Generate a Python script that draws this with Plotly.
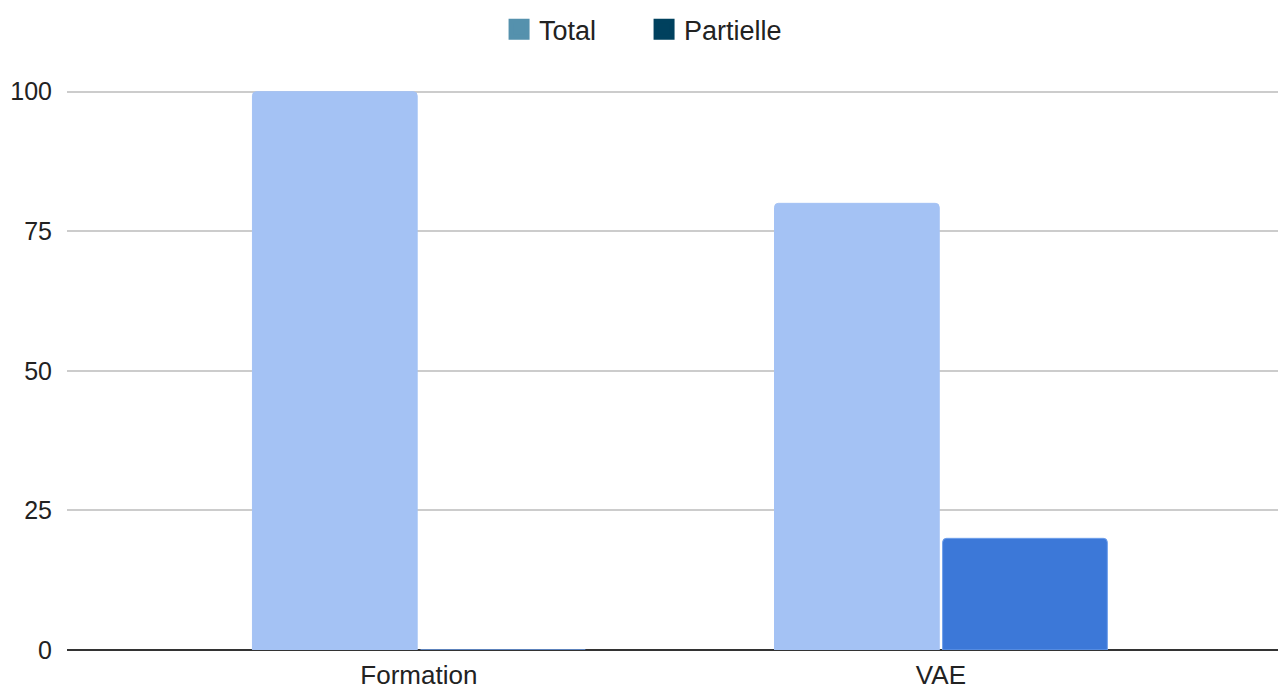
import plotly.graph_objects as go

categories = ["Formation", "VAE"]
total_values = [100, 80]
partielle_values = [0, 20]
series_names = ["Total", "Partielle"]
tick_values = [0, 25, 50, 75, 100]

bar_colors = ["#A4C2F4", "#3C78D8"]
bar_line_colors = ["#A4C2F4", "#6D9EEB"]
legend_colors = ["#5591AD", "#00415E"]

fig = go.Figure()
for name, vals, col, lcol in zip(series_names, [total_values, partielle_values], bar_colors, bar_line_colors):
    fig.add_trace(go.Bar(
        x=categories, y=vals, name=name, showlegend=False,
        marker=dict(color=col, line=dict(color=lcol, width=1), cornerradius=4),
        hoverinfo="x+y+name",
    ))
for name, col in zip(series_names, legend_colors):
    fig.add_trace(go.Scatter(
        x=[None], y=[None], name=name, mode="markers",
        marker=dict(symbol="square", size=16, color=col, line=dict(color=col, width=5)),
    ))

fig.update_layout(
    width=1278, height=682,
    paper_bgcolor="white", plot_bgcolor="white",
    margin=dict(l=59, r=0, t=82, b=40, autoexpand=False),
    barmode="group", bargap=0.356, bargroupgap=0.02,
    font=dict(family="Liberation Sans, Arial, sans-serif", size=26, color="#222222"),
    legend=dict(orientation="h", xref="container", yref="container",
                x=0.4977, xanchor="center", y=0.968, yanchor="middle",
                entrywidth=100, entrywidthmode="pixels",
                font=dict(size=27, color="#222222"), itemclick=False),
    xaxis=dict(type="category", categoryorder="array", categoryarray=categories,
               range=[-0.674, 1.661], showgrid=False, ticks="",
               showline=False, ticklabelstandoff=7,
               tickfont=dict(size=26, color="#222222")),
    yaxis=dict(range=[0, 100.3], tickvals=tick_values, showgrid=True,
               gridcolor="#CCCCCC", gridwidth=1.5, zeroline=True,
               zerolinecolor="#333333", zerolinewidth=2,
               ticks="", ticklabelstandoff=14, tickfont=dict(size=25, color="#222222")),
)

fig.write_html("out.html")
